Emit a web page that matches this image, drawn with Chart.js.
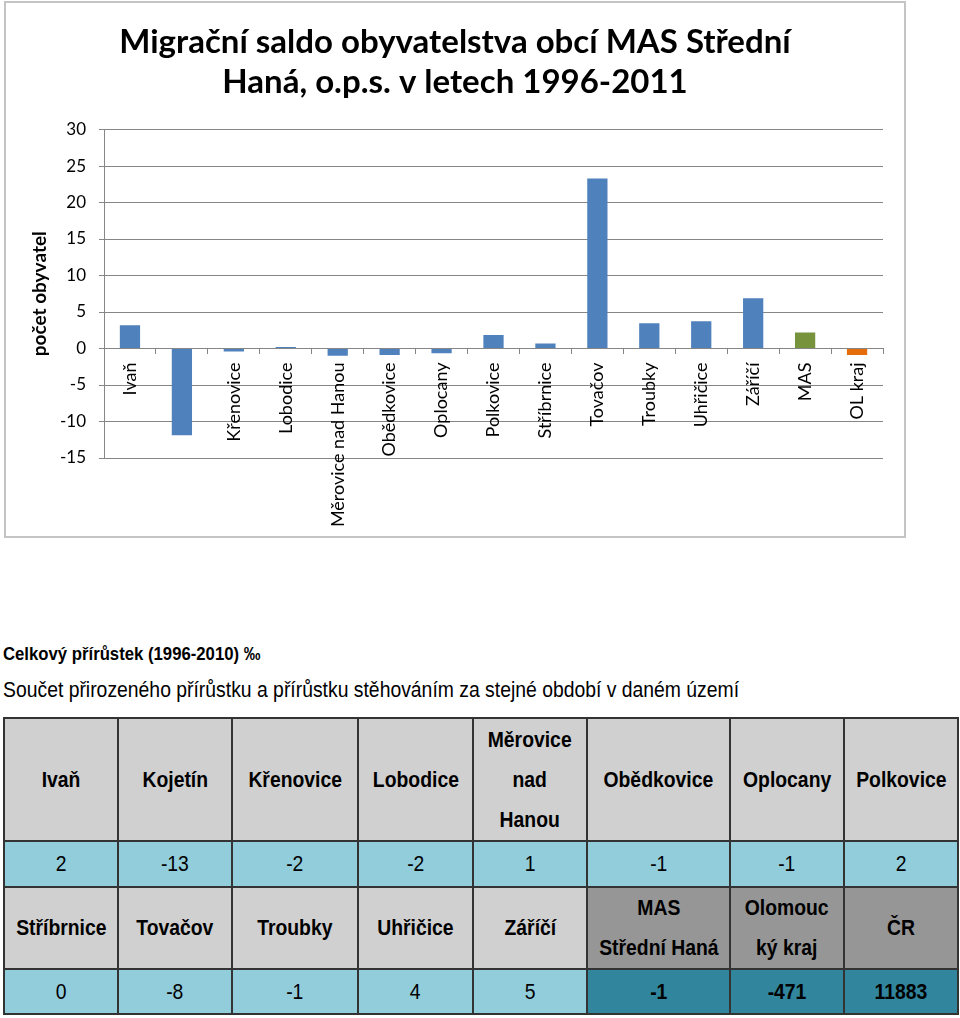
<!DOCTYPE html>
<html lang="cs">
<head>
<meta charset="utf-8">
<title>Migrační saldo obyvatelstva obcí MAS Střední Haná</title>
<script src="https://cdn.jsdelivr.net/npm/chart.js@4.4.1/dist/chart.umd.min.js"></script>
<style>
    body {
        margin: 0;
        background: #fff;
        width: 960px;
        height: 1018px;
        position: relative;
        overflow: hidden;
        font-family: "Liberation Sans", Arial, sans-serif;
        color: #000;
    }
    #chartBox {
        position: absolute;
        left: 4px;
        top: 1px;
        width: 898px;
        height: 533px;
        border: 2px solid #c4c4c4;
    }
    #chartBox canvas { display: block; }
    /* úzké písmo (Arial Narrow) nahrazeno zúžením */
    .narrow {
        display: inline-block;
        transform: scaleX(0.88);
        white-space: nowrap;
    }
    .heading, .note {
        position: absolute;
        left: 3px;
        white-space: nowrap;
    }
    .heading { top: 643px; font-size: 19px; font-weight: bold; }
    .note { top: 677px; font-size: 22px; }
    .heading .narrow, .note .narrow { transform-origin: left center; }
    #tbl {
        position: absolute;
        left: 3px;
        top: 717px;
        border-collapse: collapse;
        table-layout: fixed;
    }
    #tbl td {
        border: 2px solid #333;
        text-align: center;
        vertical-align: middle;
        font-size: 22px;
        padding: 0;
        line-height: 40px;
        overflow: visible;
    }
    #tbl .name { background: #d0d0d0; font-weight: bold; }
    #tbl .val { background: #92cddc; }
    #tbl .name.dark { background: #969696; }
    #tbl .val.dark { background: #31859c; font-weight: bold; }
</style>
</head>
<body>
<div id="chartBox"><canvas id="saldoChart" width="898" height="533"></canvas></div>

<div class="heading"><span class="narrow">Celkový přírůstek (1996-2010) ‰</span></div>
<div class="note"><span class="narrow">Součet přirozeného přírůstku a přírůstku stěhováním za stejné období v daném území</span></div>
<table id="tbl"></table>

<script>
// data grafu
const titleLines = ['Migrační saldo obyvatelstva obcí MAS Střední', 'Haná, o.p.s. v letech 1996-2011'];
const categories = ['Ivaň', 'Kojetín', 'Křenovice', 'Lobodice', 'Měrovice nad Hanou', 'Obědkovice',
    'Oplocany', 'Polkovice', 'Stříbrnice', 'Tovačov', 'Troubky', 'Uhřičice', 'Záříčí', 'MAS', 'OL kraj'];
const saldo = [3.2, -11.9, -0.4, 0.2, -1.0, -0.9, -0.65, 1.85, 0.7, 23.3, 3.45, 3.75, 6.9, 2.2, -0.9];
const barColors = ['#4f81bd', '#4f81bd', '#4f81bd', '#4f81bd', '#4f81bd', '#4f81bd', '#4f81bd',
    '#4f81bd', '#4f81bd', '#4f81bd', '#4f81bd', '#4f81bd', '#4f81bd', '#77933c', '#e46c0a'];
const yTicks = { min: -15, max: 30, step: 5 };

// data tabulky
const names1 = ['Ivaň', 'Kojetín', 'Křenovice', 'Lobodice', 'Měrovice<br>nad<br>Hanou', 'Obědkovice', 'Oplocany', 'Polkovice'];
const values1 = ['2', '-13', '-2', '-2', '1', '-1', '-1', '2'];
const names2 = ['Stříbrnice', 'Tovačov', 'Troubky', 'Uhřičice', 'Záříčí', 'MAS<br>Střední Haná', 'Olomouc<br>ký kraj', 'ČR'];
const values2 = ['0', '-8', '-1', '4', '5', '-1', '-471', '11883'];
const colWidths = [114, 114, 126, 115, 114, 143, 114, 114];
const rowHeights = [123, 46, 82, 45];

(() => {
    document.addEventListener('DOMContentLoaded', () => {
        buildTable();
        initChart();
    });

    function buildTable() {
        const tbl = document.getElementById('tbl');
        const cols = document.createElement('colgroup');
        colWidths.forEach(w => {
            const c = document.createElement('col');
            c.style.width = w + 'px';
            cols.appendChild(c);
        });
        tbl.appendChild(cols);

        const rows = [[names1, 'name'], [values1, 'val'], [names2, 'name'], [values2, 'val']];
        rows.forEach(([cells, cls], r) => {
            const tr = document.createElement('tr');
            tr.style.height = rowHeights[r] + 'px';
            cells.forEach((txt, i) => {
                const td = document.createElement('td');
                td.className = cls + (r >= 2 && i >= 5 ? ' dark' : '');
                td.innerHTML = '<span class="narrow">' + txt + '</span>';
                tr.appendChild(td);
            });
            tbl.appendChild(tr);
        });
    }

    function initChart() {
        const canvas = document.getElementById('saldoChart');
        if (!canvas || typeof Chart === 'undefined') return;

        const gridColor = '#868686';
        new Chart(canvas.getContext('2d'), {
            type: 'bar',
            data: {
                labels: categories,
                datasets: [{
                    data: saldo,
                    backgroundColor: barColors,
                    barPercentage: 0.39,
                    categoryPercentage: 1
                }]
            },
            options: {
                responsive: false,
                animation: false,
                devicePixelRatio: 1,
                layout: { padding: { left: 21, right: 21, top: 0, bottom: 78 } },
                plugins: {
                    legend: { display: false },
                    tooltip: { enabled: false },
                    title: {
                        display: true,
                        text: titleLines,
                        color: '#000',
                        font: { family: 'Lato', size: 33, weight: 'bold', lineHeight: 1.22 },
                        padding: { top: 19, bottom: 27 }
                    }
                },
                scales: {
                    x: {
                        position: { y: 0 },
                        z: 1,
                        grid: { drawOnChartArea: false, drawTicks: true, tickLength: 5, color: gridColor, offset: true },
                        border: { color: gridColor },
                        ticks: {
                            minRotation: 90,
                            maxRotation: 90,
                            autoSkip: false,
                            padding: 9,
                            color: '#000',
                            font: { family: 'Lato', size: 18 }
                        }
                    },
                    y: {
                        min: yTicks.min,
                        max: yTicks.max,
                        ticks: { stepSize: yTicks.step, padding: 13, color: '#000', font: { family: 'Lato', size: 17 } },
                        grid: { color: gridColor, tickLength: 5 },
                        border: { color: gridColor },
                        title: {
                            display: true,
                            text: 'počet obyvatel',
                            color: '#000',
                            font: { family: 'Lato', size: 19, weight: 'bold' },
                            padding: { top: 1, bottom: 0 }
                        },
                        afterFit: scale => { scale.width = 77; }
                    }
                }
            }
        });
    }
})();
</script>
</body>
</html>
